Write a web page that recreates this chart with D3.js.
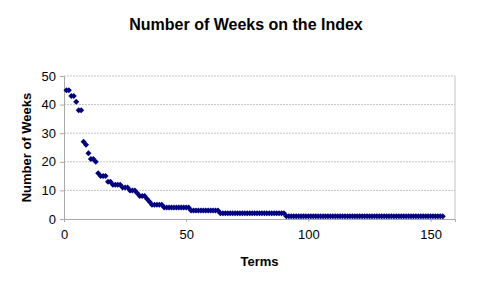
<!DOCTYPE html>
<html>
<head>
<meta charset="utf-8">
<script src="https://cdn.jsdelivr.net/npm/d3@7"></script>
<style>
  body { margin: 0; background: #fff; }
  text { font-family: "Liberation Sans", Arial, sans-serif; fill: #000; }
</style>
</head>
<body>
<script>
// weeks on the index, one run per (weeks, number of terms)
var runWeeks = [45, 43, 41, 38, 27, 26, 23, 21, 20, 16, 15, 13, 12, 11, 10, 9, 8, 7, 6, 5, 4, 3, 2, 1];
var runCounts = [2, 2, 1, 2, 1, 1, 1, 2, 1, 1, 3, 2, 4, 3, 3, 1, 3, 1, 1, 5, 11, 12, 27, 65];
var xTicks = [0, 50, 100, 150];
var yTicks = [0, 10, 20, 30, 40, 50];

// expand runs into one point per term
var points = [];
runWeeks.forEach(function(w, i){
    for (var k = 0; k < runCounts[i]; k++) {
        points.push({ term: points.length + 1, weeks: w });
    }
});

var width = 492,
    height = 281;

var margin = { left: 64, right: 37, top: 76, bottom: 62 };

var svg = d3.select("body")
    .append("svg")
    .attr("width", width)
    .attr("height", height);

var x = d3.scaleLinear()
    .domain([0, 160])
    .range([margin.left, width - margin.right]);

var y = d3.scaleLinear()
    .domain([0, 50])
    .range([height - margin.bottom, margin.top]);

//gridlines
svg.selectAll(".grid")
    .data(yTicks.slice(1))
    .enter()
    .append("line")
    .attr("class", "grid")
    .attr("x1", x(0))
    .attr("x2", x(160))
    .attr("y1", function(d){ return y(d); })
    .attr("y2", function(d){ return y(d); })
    .attr("stroke", "#c4c4c4")
    .attr("stroke-dasharray", "2,1");

//right border of plot area
svg.append("line")
    .attr("x1", x(160)).attr("x2", x(160))
    .attr("y1", y(0)).attr("y2", y(50))
    .attr("stroke", "#c4c4c4");

//axes
var xAxis = svg.append("g")
    .attr("transform", "translate(0," + y(0) + ")")
    .call(d3.axisBottom(x).tickValues(xTicks).tickSize(3).tickPadding(8));

var yAxis = svg.append("g")
    .attr("transform", "translate(" + x(0) + ",0)")
    .call(d3.axisLeft(y).tickValues(yTicks).tickSize(4).tickPadding(4));

[xAxis, yAxis].forEach(function(g){
    g.select(".domain").attr("stroke", "#a8a8a8");
    g.selectAll(".tick line").attr("stroke", "#a8a8a8");
    g.selectAll(".tick text")
        .style("font-family", "'Liberation Sans', Arial, sans-serif")
        .style("font-size", "13px")
        .attr("fill", "#000");
});

//points
svg.selectAll(".pt")
    .data(points)
    .enter()
    .append("path")
    .attr("class", "pt")
    .attr("d", "M0,-3L3,0L0,3L-3,0Z")
    .attr("transform", function(d){
        return "translate(" + x(d.term) + "," + y(d.weeks) + ")";
    })
    .attr("fill", "#000080");

//title and labels
svg.append("text")
    .attr("x", 246)
    .attr("y", 30)
    .attr("text-anchor", "middle")
    .style("font-size", "16px")
    .style("font-weight", "bold")
    .text("Number of Weeks on the Index");

svg.append("text")
    .attr("x", (x(0) + x(160)) / 2)
    .attr("y", 266)
    .attr("text-anchor", "middle")
    .style("font-size", "13px")
    .style("font-weight", "bold")
    .text("Terms");

svg.append("text")
    .attr("transform", "translate(31," + ((y(0) + y(50)) / 2) + ") rotate(-90)")
    .attr("text-anchor", "middle")
    .style("font-size", "13px")
    .style("font-weight", "bold")
    .text("Number of Weeks");
</script>
</body>
</html>
